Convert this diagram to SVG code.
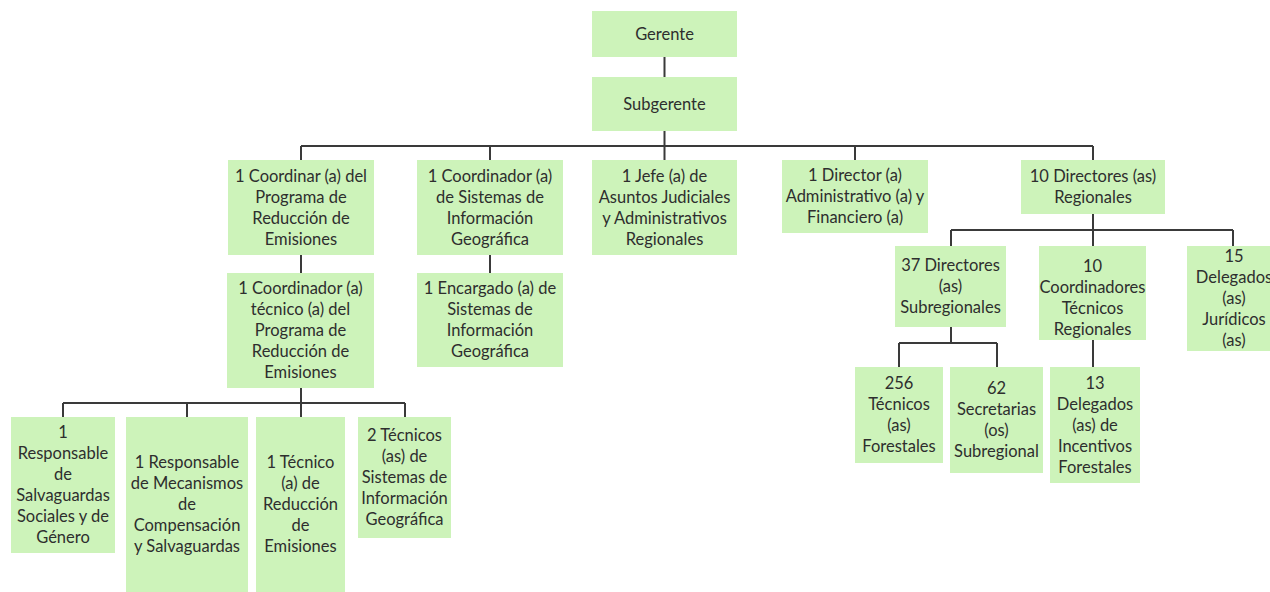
<svg xmlns="http://www.w3.org/2000/svg" width="1270" height="592" viewBox="0 0 1270 592">
<style>
.box{fill:#cdf3ba}
.t{font-family:Lato,"Liberation Sans",sans-serif;font-size:16.5px;fill:#2e2e2e;text-anchor:middle}
.c{stroke:#3a3a3a;stroke-width:2;fill:none}
</style>
<rect width="1270" height="592" fill="#fff"/>
<g id="connectors" class="c">
<path d="M664.5 57V77M664.5 131V146M301 146H1093M301 146V160M490 146V160M664.5 146V160M855 146V160M1093 146V160"/>
<path d="M301 255V273M490 255V273"/>
<path d="M1093 214V230M951 230H1233M951 230V246M1093 230V246M1233 230V246"/>
<path d="M951 327V343M899 343H997M899 343V367M997 343V367M1093 340V367"/>
<path d="M301 388V403M63 403H405M63 403V417M187 403V417M301 403V417M405 403V417"/>
</g>
<g id="gerente"><rect class="box" x="592" y="11" width="145" height="46"/><text class="t" x="664.5" y="39.5">Gerente</text></g>
<g id="subgerente"><rect class="box" x="592" y="77" width="145" height="54"/><text class="t" x="664.5" y="109.5">Subgerente</text></g>
<g id="coord-programa"><rect class="box" x="228" y="160" width="146" height="95"/><text class="t"><tspan x="301" y="181.5">1 Coordinar (a) del</tspan><tspan x="301" y="202.5">Programa de</tspan><tspan x="301" y="223.5">Reducción de</tspan><tspan x="301" y="244.5">Emisiones</tspan></text></g>
<g id="coord-sig"><rect class="box" x="417" y="160" width="146" height="95"/><text class="t"><tspan x="490" y="181.5">1 Coordinador (a)</tspan><tspan x="490" y="202.5">de Sistemas de</tspan><tspan x="490" y="223.5">Información</tspan><tspan x="490" y="244.5">Geográfica</tspan></text></g>
<g id="jefe"><rect class="box" x="592" y="160" width="145" height="95"/><text class="t"><tspan x="664.5" y="181.5">1 Jefe (a) de</tspan><tspan x="664.5" y="202.5">Asuntos Judiciales</tspan><tspan x="664.5" y="223.5">y Administrativos</tspan><tspan x="664.5" y="244.5">Regionales</tspan></text></g>
<g id="director-admin"><rect class="box" x="782" y="160" width="146" height="73"/><text class="t"><tspan x="855" y="181">1 Director (a)</tspan><tspan x="855" y="202">Administrativo (a) y</tspan><tspan x="855" y="223">Financiero (a)</tspan></text></g>
<g id="directores-regionales"><rect class="box" x="1021" y="160" width="144" height="54"/><text class="t"><tspan x="1093" y="182">10 Directores (as)</tspan><tspan x="1093" y="203">Regionales</tspan></text></g>
<g id="directores-subregionales"><rect class="box" x="895" y="246" width="111" height="81"/><text class="t"><tspan x="950.5" y="271">37 Directores</tspan><tspan x="950.5" y="292">(as)</tspan><tspan x="950.5" y="313">Subregionales</tspan></text></g>
<g id="coordinadores-tecnicos"><rect class="box" x="1039" y="246" width="107" height="94"/><text class="t"><tspan x="1092.5" y="272">10</tspan><tspan x="1092.5" y="293">Coordinadores</tspan><tspan x="1092.5" y="314">Técnicos</tspan><tspan x="1092.5" y="335">Regionales</tspan></text></g>
<g id="delegados-juridicos"><rect class="box" x="1187" y="246" width="96" height="105"/><text class="t"><tspan x="1234" y="262">15</tspan><tspan x="1234" y="283">Delegados</tspan><tspan x="1234" y="304">(as)</tspan><tspan x="1234" y="325">Jurídicos</tspan><tspan x="1234" y="346">(as)</tspan></text></g>
<g id="tecnicos-forestales"><rect class="box" x="855" y="367" width="88" height="96"/><text class="t"><tspan x="899" y="389">256</tspan><tspan x="899" y="410">Técnicos</tspan><tspan x="899" y="431">(as)</tspan><tspan x="899" y="452">Forestales</tspan></text></g>
<g id="secretarias"><rect class="box" x="950" y="367" width="93" height="106"/><text class="t"><tspan x="996.5" y="394">62</tspan><tspan x="996.5" y="415">Secretarias</tspan><tspan x="996.5" y="436">(os)</tspan><tspan x="996.5" y="457">Subregional</tspan></text></g>
<g id="delegados-incentivos"><rect class="box" x="1050" y="367" width="90" height="116"/><text class="t"><tspan x="1095" y="388.5">13</tspan><tspan x="1095" y="409.5">Delegados</tspan><tspan x="1095" y="430.5">(as) de</tspan><tspan x="1095" y="451.5">Incentivos</tspan><tspan x="1095" y="472.5">Forestales</tspan></text></g>
<g id="coord-tecnico"><rect class="box" x="227" y="273" width="147" height="115"/><text class="t"><tspan x="300.5" y="294">1 Coordinador (a)</tspan><tspan x="300.5" y="315">técnico (a) del</tspan><tspan x="300.5" y="336">Programa de</tspan><tspan x="300.5" y="357">Reducción de</tspan><tspan x="300.5" y="378">Emisiones</tspan></text></g>
<g id="encargado-sig"><rect class="box" x="417" y="273" width="146" height="94"/><text class="t"><tspan x="490" y="294">1 Encargado (a) de</tspan><tspan x="490" y="315">Sistemas de</tspan><tspan x="490" y="336">Información</tspan><tspan x="490" y="357">Geográfica</tspan></text></g>
<g id="resp-salvaguardas"><rect class="box" x="11" y="417" width="104" height="136"/><text class="t"><tspan x="63" y="438">1</tspan><tspan x="63" y="459">Responsable</tspan><tspan x="63" y="480">de</tspan><tspan x="63" y="501">Salvaguardas</tspan><tspan x="63" y="522">Sociales y de</tspan><tspan x="63" y="543">Género</tspan></text></g>
<g id="resp-mecanismos"><rect class="box" x="126" y="417" width="122" height="175"/><text class="t"><tspan x="187" y="468">1 Responsable</tspan><tspan x="187" y="489">de Mecanismos</tspan><tspan x="187" y="510">de</tspan><tspan x="187" y="531">Compensación</tspan><tspan x="187" y="552">y Salvaguardas</tspan></text></g>
<g id="tecnico-reduccion"><rect class="box" x="256" y="417" width="89" height="175"/><text class="t"><tspan x="300.5" y="468">1 Técnico</tspan><tspan x="300.5" y="489">(a) de</tspan><tspan x="300.5" y="510">Reducción</tspan><tspan x="300.5" y="531">de</tspan><tspan x="300.5" y="552">Emisiones</tspan></text></g>
<g id="tecnicos-sig"><rect class="box" x="358" y="417" width="93" height="121"/><text class="t"><tspan x="404.5" y="441">2 Técnicos</tspan><tspan x="404.5" y="462">(as) de</tspan><tspan x="404.5" y="483">Sistemas de</tspan><tspan x="404.5" y="504">Información</tspan><tspan x="404.5" y="525">Geográfica</tspan></text></g>
</svg>
